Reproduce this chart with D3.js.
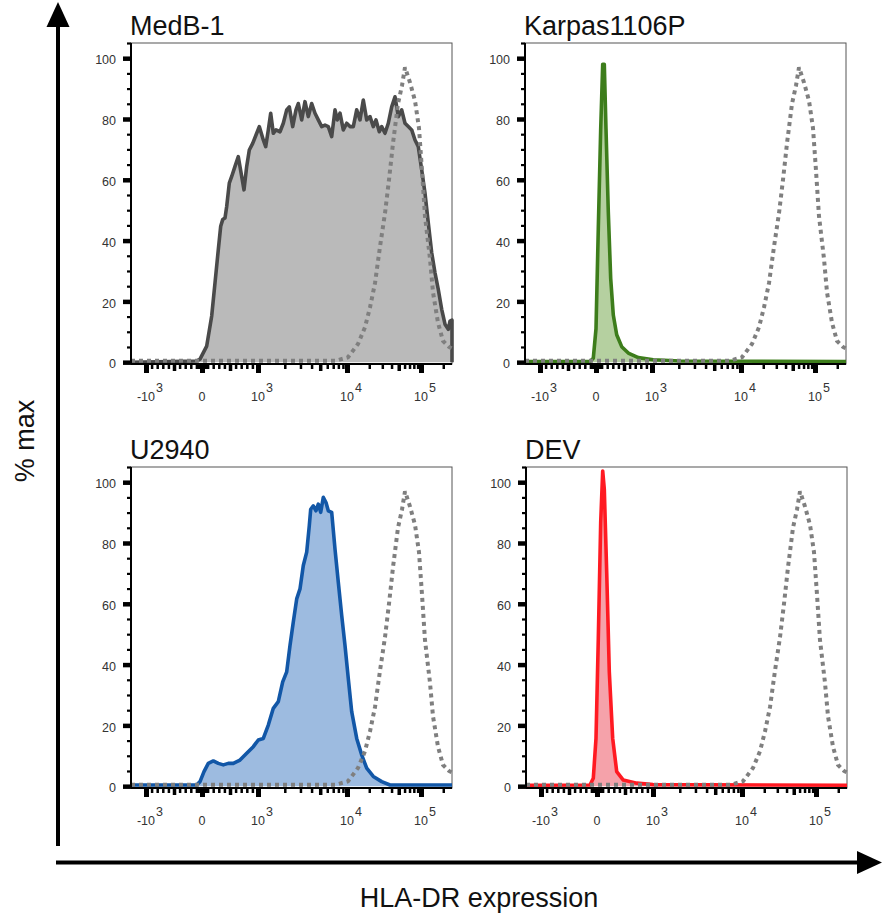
<!DOCTYPE html>
<html>
<head>
<meta charset="utf-8">
<script src="https://cdn.jsdelivr.net/npm/d3@7"></script>
<style>
body { margin: 0; background: #fff; }
text { font-family: "Liberation Sans", Arial, Helvetica, sans-serif; }
</style>
</head>
<body>
<div id="chart"></div>
<script>
// histogram traces: [display channel, % of max]; channel runs 0-321 across the biex axis
var medb1 = [[0,0],[65.7,0.4],[69,1],[75.7,5.3],[80.7,15.2],[84,26.1],[87.3,37],[89.7,44.7],[91.7,46.9],[94,47.4],
  [95.7,51.2],[98.3,58.9],[100.7,61.1],[104,64.4],[107.3,67.6],[110.7,61.1],[113,56.7],[115.7,64.4],[118.3,69.8],
  [121.7,72],[125.7,75.3],[128.3,77.5],[132.3,73.1],[134.7,70.9],[137.3,76.4],[139.7,81.9],[142.3,75.3],[145,76.4],
  [149,75.8],[152.3,78.6],[155.7,83],[158.3,84],[161.7,77.5],[165,83],[167.3,85.1],[170.7,79.7],[174,85.7],
  [177.3,80.8],[180.7,85.1],[184,81.9],[187.3,79.7],[190.7,77.5],[194,78],[197.3,77.5],[200.7,74.2],[204,83],
  [206.3,79.7],[209,81.9],[212.3,76.4],[215.7,78.6],[219,77.5],[222.3,77.5],[225.7,83],[229,79.7],[232.3,86.2],
  [235.7,79.7],[239,80.8],[242.3,77.5],[245,79.7],[248.3,75.8],[250.7,77.5],[254,75.3],[257.3,78.6],[260.7,84],
  [264,87.3],[267.3,80.8],[270.7,83],[274,78.6],[277.3,77.5],[280.7,76.4],[284,73.1],[287.3,70.9],[290.7,63.3],
  [294,55.6],[297.3,45.8],[300.7,36],[304,29.4],[307.3,23.9],[310.7,17.4],[314,12.5],[317.3,10.8],[319,13.5],
  [321,13.8],[321,0]];

var karpas = [[0,0.2],[65,0.2],[68.3,1.3],[71,11],[73.3,44],[75.7,76.7],[77.7,98],[79.3,98],[81,76.7],[83.3,49.4],
  [85.7,27.5],[88.3,15.5],[91.7,9],[96.7,5.1],[103.3,3],[113.3,1.5],[128.3,0.8],[155,0.4],[321,0.2]];

var u2940 = [[0,0.4],[65.7,0.4],[69,1.5],[73,4.8],[77.3,7.5],[82.3,8.3],[87.3,7.5],[92.3,7],[97.3,7.5],[102.3,7.5],
  [109,8.6],[115.7,10.8],[122.3,13],[127.3,15.2],[132.3,15.7],[137.3,20.1],[142.3,25.6],[147.3,27.8],[151.7,34.3],
  [155.7,37.6],[159,46.3],[162.3,54],[165.7,61.6],[169,64.9],[172.3,72.6],[175.7,77],[178.3,85.7],[179.7,91.1],
  [182.3,92.2],[185,90.6],[187.3,92.8],[189.7,90.1],[192.3,95],[195,93.3],[197.3,90.6],[200.7,90.1],[204,78],
  [207.3,67.1],[210.7,56.2],[214,46.3],[217.3,35.4],[220.7,24.5],[225.7,15.7],[230.7,10.3],[235.7,5.9],[242.3,3.2],
  [250.7,1.5],[259,0.4],[321,0.4]];

var dev = [[0,0.3],[64,0.4],[67.3,2.6],[70,15.7],[72.3,48.5],[74.7,86.8],[76.7,103.7],[78.3,97.7],[80.7,70.4],
  [83.3,37.6],[86.7,15.7],[90.7,4.8],[97.3,2],[110.7,1],[127,0.5],[321,0.3]];

// dotted reference trace, same in every panel
var control = [[0,0.5],[205,0.5],[217,1.6],[227,6],[234,11.5],[239,18],[244,26],[249,38],[254,49],[258,60],[262,72],
  [267,85],[271,91],[274,97],[276,95],[279,92],[284,86],[288,77],[291,63],[294,48],[299,34],[302,23],[307,13],
  [312,7],[318,5],[321,4.5]];

var yMajor = [0, 20, 40, 60, 80, 100];
var xMajor = [-1000, 0, 1000, 10000, 100000];
var xLabels = [["-10","3"], ["0",""], ["10","3"], ["10","4"], ["10","5"]];

// intensity -> display channel (linear around zero, log above 10^3)
function chan(v) {
  if (Math.abs(v) <= 1000) return 71 + 56 * v / 1000;
  if (v < -1000) return 15 - 56 * Math.log10(-v / 1000);
  if (v <= 10000) return 127 + 89 * Math.log10(v / 1000);
  return 216 + 74 * Math.log10(v / 10000);
}

var xMid = [-500, 500, 5000, 50000];
var xMinor = [];
for (var k = 1; k <= 9; k++) {
  xMinor.push(k * 10, -k * 10, k * 100, -k * 100, k * 1000, k * 10000);
}
xMinor.push(200000);
xMinor = xMinor.filter(function(v) { return xMid.indexOf(v) < 0 && xMajor.indexOf(v) < 0 && Math.abs(v) > 9; });

var width_p = 321, height_p = 321;

var panels = [
  {name: "MedB-1", data: medb1, stroke: "#4a4a4a", fill: "#bababa", left: 131, top: 43},
  {name: "Karpas1106P", data: karpas, stroke: "#3d7d1b", fill: "#b5d0a0", left: 525, top: 43},
  {name: "U2940", data: u2940, stroke: "#1257a7", fill: "#9dbbe0", left: 131, top: 467},
  {name: "DEV", data: dev, stroke: "#ff1a22", fill: "#f5a2aa", left: 526, top: 467}
];

var svg = d3.select("#chart")
  .append("svg")
    .attr("width", 883)
    .attr("height", 916);

var x = d3.scaleLinear().domain([0, 321]).range([0, width_p]);
var y = d3.scaleLinear().domain([-0.6, 105]).range([height_p, 0]);

var area = d3.area()
  .x(function(d) { return x(d[0]); })
  .y0(y(0))
  .y1(function(d) { return y(d[1]); });
var line = d3.line()
  .x(function(d) { return x(d[0]); })
  .y(function(d) { return y(d[1]); });

panels.forEach(function(p) {
  var g = svg.append("g")
    .attr("transform", "translate(" + p.left + "," + p.top + ")");

  // title
  svg.append("text")
    .attr("x", p.left - 1)
    .attr("y", p.top - 8)
    .style("font-size", "27px")
    .style("fill", "#111")
    .text(p.name);

  // frame
  g.append("rect")
    .attr("width", width_p)
    .attr("height", height_p)
    .style("fill", "none")
    .style("stroke", "#555")
    .style("stroke-width", 1);

  // histogram
  g.append("path")
    .datum(p.data)
    .attr("d", area)
    .style("fill", p.fill);
  g.append("path")
    .datum(p.data)
    .attr("d", line)
    .style("fill", "none")
    .style("stroke", p.stroke)
    .style("stroke-width", 3.6)
    .style("stroke-linejoin", "round");
  g.append("path")
    .datum(control)
    .attr("d", line)
    .style("fill", "none")
    .style("stroke", "#7f7f7f")
    .style("stroke-width", 4)
    .style("stroke-dasharray", "4,4");

  // y axis ticks
  var yMinorAx = g.append("g")
    .call(d3.axisLeft(y).tickValues(d3.range(5, 106, 5)).tickSize(4).tickFormat(""));
  yMinorAx.selectAll("line").style("stroke", "#000").style("stroke-width", 2.2);
  var yAx = g.append("g")
    .call(d3.axisLeft(y).tickValues(yMajor).tickSize(8).tickPadding(7));
  yAx.selectAll("line").style("stroke", "#000").style("stroke-width", 4.5);
  yAx.selectAll("text")
    .style("font-size", "12.5px")
    .style("fill", "#333")
    .attr("dy", "0.45em")
    .style("font-family", "'Liberation Sans', Arial, sans-serif");
  g.selectAll(".domain").remove();

  // x axis ticks
  var xb = g.append("g").attr("transform", "translate(0," + height_p + ")");
  var xMinorAx = xb.append("g")
    .call(d3.axisBottom(x).tickValues(xMinor.map(chan)).tickSize(5).tickFormat(""));
  xMinorAx.selectAll("line").style("stroke", "#000").style("stroke-width", 2.5);
  var xMidAx = xb.append("g")
    .call(d3.axisBottom(x).tickValues(xMid.map(chan)).tickSize(7).tickFormat(""));
  xMidAx.selectAll("line").style("stroke", "#000").style("stroke-width", 3.5);
  var xAx = xb.append("g")
    .call(d3.axisBottom(x).tickValues(xMajor.map(chan)).tickSize(9).tickFormat(""));
  xAx.selectAll("line").style("stroke", "#000").style("stroke-width", 5);
  xb.selectAll(".domain").remove();

  // tick labels with exponents
  xMajor.forEach(function(v, i) {
    var cx = x(chan(v));
    var base = xb.append("text")
      .attr("x", cx)
      .attr("y", 37)
      .attr("text-anchor", "middle")
      .style("font-size", "12.5px")
      .style("fill", "#333")
      .text(xLabels[i][0]);
    if (xLabels[i][1]) {
      var hw = base.node().getComputedTextLength() / 2;
      xb.append("text")
        .attr("x", cx + hw + 1)
        .attr("y", 28)
        .style("font-size", "12.5px")
        .style("fill", "#333")
        .text(xLabels[i][1]);
    }
  });

  // axis lines
  g.append("line")
    .attr("x1", 0).attr("x2", 0).attr("y1", 0).attr("y2", height_p)
    .style("stroke", "#000").style("stroke-width", 2);
  g.append("line")
    .attr("x1", 0).attr("x2", width_p).attr("y1", height_p).attr("y2", height_p)
    .style("stroke", "#000").style("stroke-width", 2);
});

// outer arrows
svg.append("line")
  .attr("x1", 58).attr("x2", 58).attr("y1", 846).attr("y2", 22)
  .style("stroke", "#000").style("stroke-width", 4);
svg.append("path")
  .attr("d", "M46.5,27 L58,2 L69.5,27 Z")
  .style("fill", "#000");
svg.append("line")
  .attr("x1", 56).attr("x2", 862).attr("y1", 862.5).attr("y2", 862.5)
  .style("stroke", "#000").style("stroke-width", 4);
svg.append("path")
  .attr("d", "M857,851 L882,862.5 L857,874 Z")
  .style("fill", "#000");

// axis titles
svg.append("text")
  .attr("transform", "translate(34,441) rotate(-90)")
  .attr("text-anchor", "middle")
  .style("font-size", "27px")
  .style("fill", "#111")
  .text("% max");
svg.append("text")
  .attr("x", 479)
  .attr("y", 907)
  .attr("text-anchor", "middle")
  .style("font-size", "27px")
  .style("fill", "#111")
  .text("HLA-DR expression");
</script>
</body>
</html>
